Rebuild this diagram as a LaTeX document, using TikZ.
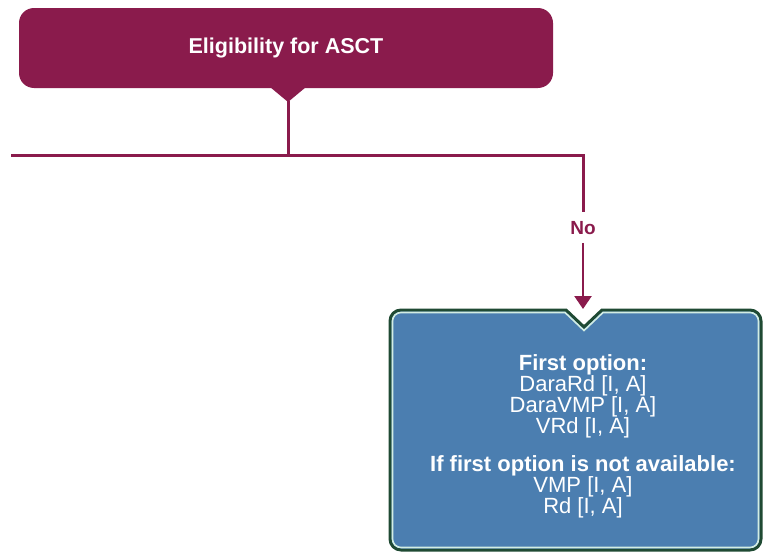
\documentclass[tikz,border=0pt]{standalone}
\usepackage{fontspec}
\setmainfont{Liberation Sans}
\usetikzlibrary{arrows.meta}
\definecolor{maroon}{HTML}{8A1B4C}
\definecolor{optblue}{HTML}{4B7EB0}
\definecolor{darkrim}{HTML}{1F4A33}
\definecolor{lightrim}{HTML}{D2EDE3}
\tikzset{
  flow/.style={draw=maroon, line width=3pt},
  headbox/.style={fill=maroon, rounded corners=15pt, minimum width=534pt, minimum height=80pt, inner sep=0pt,
    text=white, font=\bfseries\fontsize{21.5}{21}\selectfont},
  optext/.style={text=white, align=center, inner sep=0pt, font=\fontsize{22}{21}\selectfont},
  lbl/.style={text=maroon, font=\bfseries\fontsize{19}{19}\selectfont, inner sep=0pt}
}
\begin{document}
\begin{tikzpicture}[x=1pt,y=-1pt]
\useasboundingbox (0,0) rectangle (763,554);
% top box
\node[headbox] (elig) at (286,48) {Eligibility for ASCT};
\fill[maroon] (270,87) -- (288,102) -- (306,87) -- cycle;
\coordinate (ptip) at (288,101);
\coordinate (junc) at (288,155);
\coordinate (lend) at (11,155);
\coordinate (rturn) at (583,155);
\node[lbl] (no) at (583,228) {No};
\coordinate (atip) at (583,309);
\draw[flow] (ptip) -- (junc);
\draw[flow] (lend) -- (junc) -- (rturn) -- ([yshift=9pt]no.north);
\draw[flow, line width=2.5pt, -{Triangle[width=17pt,length=13pt]}] ([yshift=-8pt]no.south) -- (atip);
% option box
\path[fill=optblue, draw=darkrim, line width=3pt]
  (584,327) -- (602,310) [rounded corners=11pt] -- (761,310) -- (761,550) -- (390,550) -- (390,310) [sharp corners] -- (566,310) -- cycle;
\draw[lightrim, line width=1.6pt]
  (584,330.5) -- (603,312.5) [rounded corners=8.5pt] -- (758.5,312.5) -- (758.5,547.5) -- (392.5,547.5) -- (392.5,312.5) [sharp corners] -- (565,312.5) -- cycle;
\node[optext] (opt) at (583,436) {\textbf{First option:}\\DaraRd [I, A]\\DaraVMP [I, A]\\VRd [I, A]\\[17pt]\textbf{If first option is not available:}\\VMP [I, A]\\Rd [I, A]};
\end{tikzpicture}
\end{document}
